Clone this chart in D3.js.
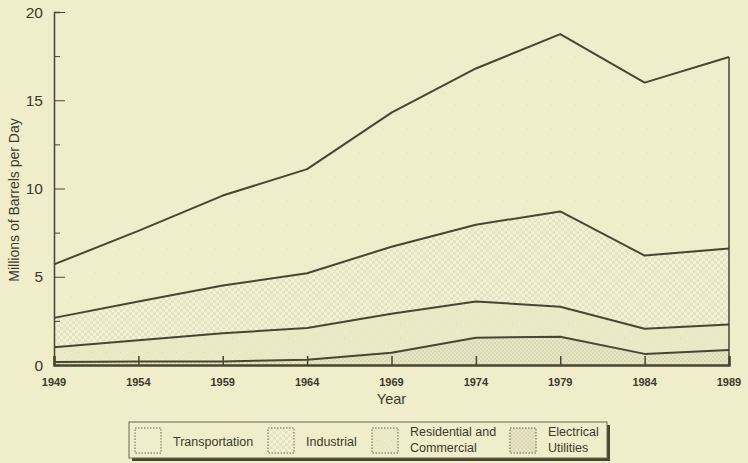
<!DOCTYPE html>
<html>
<head>
<meta charset="utf-8">
<script src="https://cdn.jsdelivr.net/npm/d3@7"></script>
<style>
  body { margin: 0; background: #efedca; }
  svg { display: block; font-family: "Liberation Sans", Arial, sans-serif; }
</style>
</head>
<body>
<svg id="chart" width="748" height="463"></svg>
<script>
// values (millions of barrels per day)
const years = [1949, 1954, 1959, 1964, 1969, 1974, 1979, 1984, 1989];
const electrical = [0.17, 0.2, 0.2, 0.3, 0.7, 1.55, 1.6, 0.63, 0.85];
const residential = [0.83, 1.2, 1.6, 1.8, 2.2, 2.05, 1.7, 1.42, 1.45];
const industrial = [1.67, 2.2, 2.7, 3.1, 3.8, 4.35, 5.4, 4.15, 4.3];
const transportation = [3.03, 4.0, 5.1, 5.9, 7.6, 8.85, 10.05, 9.8, 10.85];
const yTicks = [0, 5, 10, 15, 20];
const legendLabels = [["Transportation"], ["Industrial"], ["Residential and", "Commercial"], ["Electrical", "Utilities"]];

const ink = "#4a4532";
const svg = d3.select("#chart");

var margin = { top: 12, right: 19, bottom: 98, left: 54 };
var width = 748 - margin.left - margin.right;
var height = 463 - margin.top - margin.bottom;

// fill patterns
const defs = svg.append("defs");
function pat(id, size, bg, dots) {
  const p = defs.append("pattern").attr("id", id).attr("patternUnits", "userSpaceOnUse")
    .attr("width", size).attr("height", size);
  p.append("rect").attr("width", size).attr("height", size).attr("fill", bg);
  dots.forEach(d => p.append("rect").attr("x", d[0]).attr("y", d[1]).attr("width", d[2]).attr("height", d[2]).attr("fill", d[3]));
}
pat("p-trans", 24, "#efedca", [[5, 9, 1, "#e2dfbb"], [17, 20, 1, "#e2dfbb"]]);
pat("p-ind", 6, "#e6e3bf", [[0, 0, 3, "#f3f1d8"], [3, 3, 3, "#f3f1d8"]]);
pat("p-res", 14, "#ebe9c5", [[3, 4, 1, "#f7f5e0"], [10, 11, 1, "#f7f5e0"], [10, 4, 1, "#dedab6"]]);
pat("p-elec", 4, "#dcd8b5", [[0, 0, 2, "#e8e5c5"], [2, 2, 2, "#e8e5c5"]]);
const fills = ["url(#p-elec)", "url(#p-res)", "url(#p-ind)", "url(#p-trans)"];

const rows = years.map((yr, i) => ({
  year: yr,
  electrical: electrical[i],
  residential: residential[i],
  industrial: industrial[i],
  transportation: transportation[i]
}));
const keys = ["electrical", "residential", "industrial", "transportation"];
const series = d3.stack().keys(keys)(rows);

const g = svg.append("g").attr("transform", "translate(" + margin.left + "," + margin.top + ")");

const x = d3.scaleLinear().domain([1949, 1989]).range([0, width]);
const y = d3.scaleLinear().domain([0, 20]).range([height, 0]);

const area = d3.area().x(d => x(d.data.year)).y0(d => y(d[0])).y1(d => y(d[1]));
const line = d3.line().x(d => x(d.data.year)).y(d => y(d[1]));

g.selectAll(".layer").data(series).join("path")
  .attr("class", "layer")
  .attr("fill", (d, i) => fills[i])
  .attr("d", area);

g.selectAll(".edge").data(series).join("path")
  .attr("class", "edge")
  .attr("fill", "none")
  .attr("stroke", ink)
  .attr("stroke-width", 2)
  .attr("stroke-linejoin", "round")
  .attr("d", line);

// right edge of the areas
const last = series[series.length - 1][years.length - 1];
g.append("line")
  .attr("x1", x(1989)).attr("x2", x(1989))
  .attr("y1", y(last[1])).attr("y2", y(0))
  .attr("stroke", ink).attr("stroke-width", 1.5);

// y axis (ticks pointing inward)
const yAxis = g.append("g").call(d3.axisRight(y).tickValues(d3.range(0, 20.1, 2.5)).tickSize(6).tickFormat(""));
yAxis.select(".domain").attr("stroke", ink).attr("stroke-width", 1.5);
yAxis.selectAll(".tick line").attr("stroke", ink).attr("x2", d => d % 5 === 0 ? 11 : 6);
g.selectAll(".ylab").data(yTicks).join("text")
  .attr("class", "ylab")
  .attr("x", -11).attr("y", d => y(d)).attr("dy", "0.36em")
  .attr("text-anchor", "end").attr("font-size", 15.5).attr("fill", "#3c3a2c")
  .text(d => d);

// x axis (ticks pointing up)
const xAxis = g.append("g").attr("transform", "translate(0," + height + ")")
  .call(d3.axisTop(x).tickValues(years).tickSize(9).tickFormat(""));
xAxis.select(".domain").attr("stroke", ink).attr("stroke-width", 2.5);
xAxis.selectAll(".tick line").attr("stroke", ink).attr("stroke-width", 1.5);
g.selectAll(".xlab").data(years).join("text")
  .attr("class", "xlab")
  .attr("x", d => x(d)).attr("y", height + 21)
  .attr("text-anchor", "middle").attr("font-size", 11).attr("font-weight", "bold").attr("fill", "#3c3a2c")
  .text(d => d);

// axis titles
g.append("text")
  .attr("x", x(1969)).attr("y", height + 39)
  .attr("text-anchor", "middle").attr("font-size", 14.5).attr("fill", "#3c3a2c")
  .text("Year");
svg.append("text")
  .attr("transform", "translate(19,200) rotate(-90)")
  .attr("text-anchor", "middle").attr("font-size", 14).attr("fill", "#3c3a2c")
  .text("Millions of Barrels per Day");

// legend
const lg = svg.append("g").attr("transform", "translate(129,422)");
lg.append("rect").attr("x", 3).attr("y", 3).attr("width", 478).attr("height", 36).attr("fill", "#4a4532");
lg.append("rect").attr("width", 478).attr("height", 36).attr("fill", "#efedca").attr("stroke", "#6a6650").attr("stroke-width", 1);
const legendFills = [fills[3], fills[2], fills[1], fills[0]];
const swatchX = [6, 139, 243, 381];
legendLabels.forEach((lab, i) => {
  lg.append("rect")
    .attr("x", swatchX[i]).attr("y", 6).attr("width", 26).attr("height", 25)
    .attr("fill", legendFills[i]).attr("stroke", "#6a6650").attr("stroke-dasharray", "1.5,1.5");
  const t = lg.append("text").attr("x", swatchX[i] + 38).attr("font-size", 12.5).attr("fill", "#3c3a2c");
  if (lab.length === 1) {
    t.append("tspan").attr("y", 24).text(lab[0]);
  } else {
    t.append("tspan").attr("x", swatchX[i] + 38).attr("y", 14).text(lab[0]);
    t.append("tspan").attr("x", swatchX[i] + 38).attr("y", 30).text(lab[1]);
  }
});
</script>
</body>
</html>
